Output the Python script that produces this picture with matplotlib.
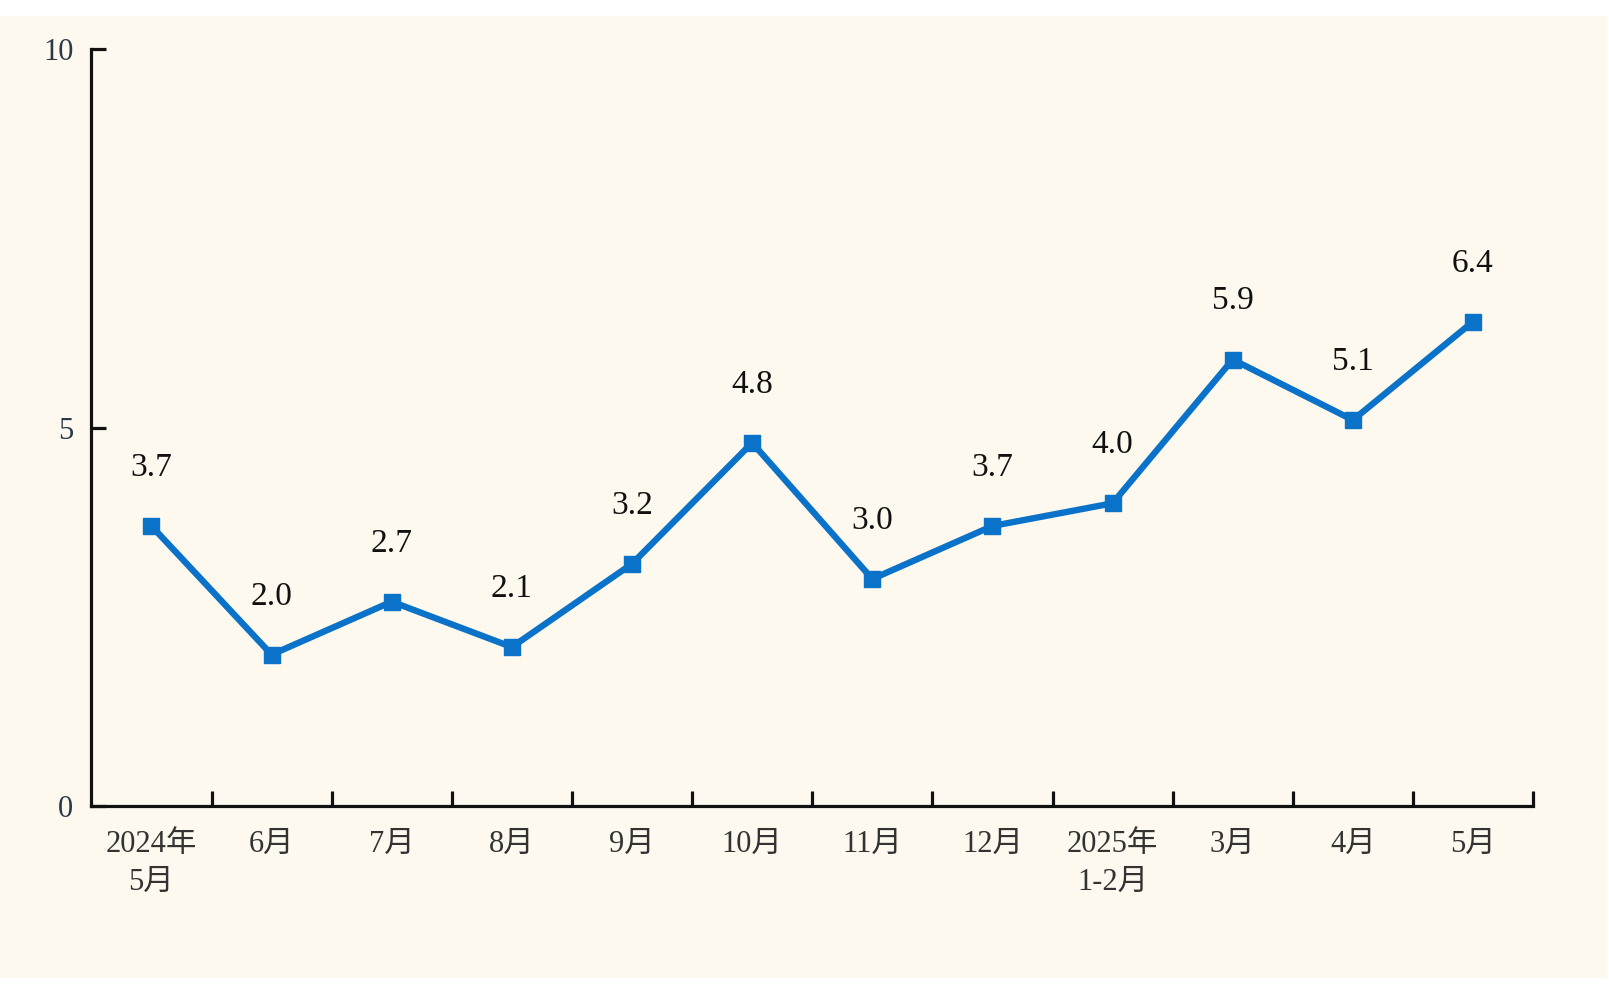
import matplotlib
matplotlib.use("Agg")
import numpy as np
import matplotlib.pyplot as plt
from matplotlib.patches import Rectangle


# ---------- data ----------

months = ["2024年\n5月", "6月", "7月", "8月", "9月", "10月",
          "11月", "12月", "2025年\n1-2月", "3月", "4月", "5月"]
values = [3.7, 2.0, 2.7, 2.1, 3.2, 4.8, 3.0, 3.7, 4.0, 5.9, 5.1, 6.4]
y_ticks = [0, 5, 10]

FONT = ["Liberation Serif", "Noto Sans CJK SC", "DejaVu Sans"]
BG = "#FDF9EF"
LINE = "#0A72C9"

plt.rcParams["font.family"] = FONT

fig = plt.figure(figsize=(16.09, 9.97), dpi=100)
fig.patch.set_facecolor("white")
# cream panel behind the chart (white strips top and bottom)
fig.add_artist(Rectangle((0, 19 / 997), 1607 / 1609, 962 / 997,
                         transform=fig.transFigure, facecolor=BG,
                         edgecolor="none", zorder=-10))

ax = fig.add_axes([0.0568, 0.1916, 0.896, 0.759])
ax.set_facecolor("none")
ax.set_zorder(1)

x = np.arange(len(values))
ax.plot(x, values, color=LINE, linewidth=4.6, marker="s", markersize=11.5,
        markerfacecolor=LINE, markeredgecolor=LINE, solid_joinstyle="miter",
        clip_on=False, zorder=3)

for xi, v in zip(x, values):
    ax.annotate(f"{v:.1f}", (xi, v), xytext=(0, 42), textcoords="offset points",
                ha="center", va="center", fontsize=24, color="#111111",
                family=FONT)

ax.set_xlim(-0.5, len(values) - 0.5)
ax.set_ylim(0, 10)

# category ticks sit on the boundaries between months
ax.set_xticks(np.arange(len(values)) + 0.5)
ax.set_xticklabels([])
ax.set_xticks(x, minor=True)
ax.set_xticklabels(months, minor=True, fontsize=22, color="#333333",
                   linespacing=1.4, family=FONT)
ax.tick_params(axis="x", which="major", direction="in", length=11, width=2.3,
               color="#111111")
ax.tick_params(axis="x", which="minor", length=0, pad=17)

ax.set_yticks(y_ticks)
ax.set_yticklabels([str(t) for t in y_ticks], fontsize=22, color="#2b3a4a",
                   family=FONT)
ax.tick_params(axis="y", direction="in", length=11, width=2.3, pad=13,
               color="#111111")

for side in ["top", "right"]:
    ax.spines[side].set_visible(False)
for side in ["left", "bottom"]:
    ax.spines[side].set_linewidth(2.3)
    ax.spines[side].set_color("#111111")

fig.savefig("out.png", dpi=100, facecolor=fig.get_facecolor())
